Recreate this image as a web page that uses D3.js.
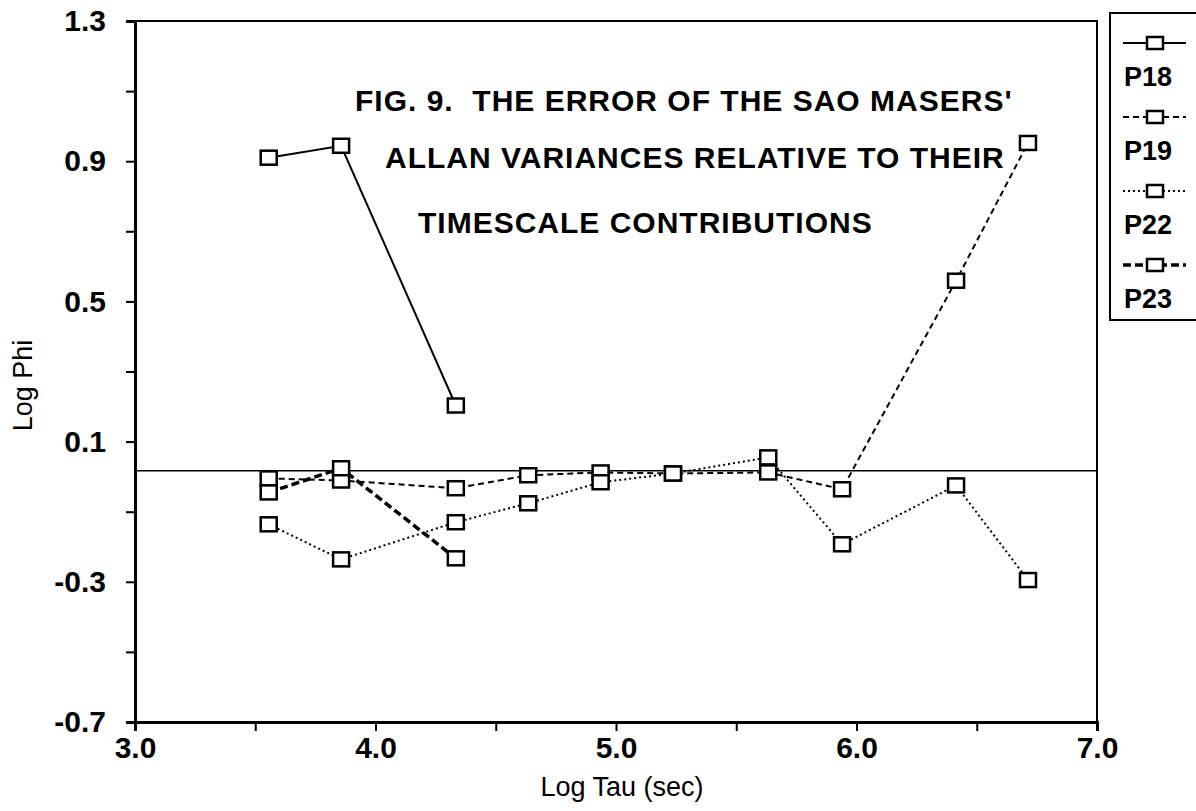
<!DOCTYPE html>
<html>
<head>
<meta charset="utf-8">
<script src="https://cdn.jsdelivr.net/npm/d3@7"></script>
<style>
  body { margin: 0; background: #fff; }
  text { font-family: "Liberation Sans", Arial, sans-serif; fill: #000; }
</style>
</head>
<body>
<script>
// log tau positions (sec)
const tauShort = [3.556, 3.857, 4.334];
const tauLong = [3.556, 3.857, 4.334, 4.635, 4.936, 5.237, 5.633, 5.94, 6.414, 6.713];

const phiP18 = [0.91, 0.944, 0.203];
const phiP19 = [-0.005, -0.011, -0.033, 0.004, 0.012, 0.009, 0.012, -0.036, 0.559, 0.952];
const phiP22 = [-0.136, -0.236, -0.13, -0.076, -0.016, 0.009, 0.055, -0.193, -0.025, -0.295];
const phiP23 = [-0.045, 0.024, -0.233];

const refLine = 0.017;

const xTicks = [3, 3.5, 4, 4.5, 5, 5.5, 6, 6.5, 7];
const xLabels = ["3.0", "", "4.0", "", "5.0", "", "6.0", "", "7.0"];
const yTicks = [-0.7, -0.5, -0.3, -0.1, 0.1, 0.3, 0.5, 0.7, 0.9, 1.1, 1.3];
const yLabels = ["-0.7", "", "-0.3", "", "0.1", "", "0.5", "", "0.9", "", "1.3"];

const titleLines = ["FIG. 9.  THE ERROR OF THE SAO MASERS'",
                    "ALLAN VARIANCES RELATIVE TO THEIR",
                    "TIMESCALE CONTRIBUTIONS"];

const series = [
  { name: "P18", tau: tauShort, phi: phiP18, dash: null, width: 2 },
  { name: "P19", tau: tauLong, phi: phiP19, dash: "6,4", width: 2 },
  { name: "P22", tau: tauLong, phi: phiP22, dash: "2,3", width: 2 },
  { name: "P23", tau: tauShort, phi: phiP23, dash: "8,4", width: 3.5 }
];

const W = 1196, H = 811;
const plotL = 135, plotR = 1097, plotT = 21, plotB = 722;

const svg = d3.select("body").append("svg")
  .attr("width", W).attr("height", H);

const x = d3.scaleLinear().domain([3, 7]).range([plotL, plotR]);
const y = d3.scaleLinear().domain([-0.7, 1.3]).range([plotB, plotT]);

// frame
svg.append("rect")
  .attr("x", plotL).attr("y", plotT)
  .attr("width", plotR - plotL).attr("height", plotB - plotT)
  .attr("fill", "none").attr("stroke", "#000").attr("stroke-width", 2);

// axes
const xAxis = d3.axisBottom(x).tickValues(xTicks)
  .tickFormat((d, i) => xLabels[i]).tickSize(9).tickPadding(6);
const gx = svg.append("g").attr("transform", `translate(0,${plotB})`).call(xAxis);
gx.select(".domain").attr("stroke-width", 3);
gx.selectAll(".tick line").attr("stroke-width", 2);
gx.selectAll("text").attr("font-size", 30).attr("font-weight", "bold");

const yAxis = d3.axisLeft(y).tickValues(yTicks)
  .tickFormat((d, i) => yLabels[i]).tickSize(9).tickPadding(20);
const gy = svg.append("g").attr("transform", `translate(${plotL},0)`).call(yAxis);
gy.select(".domain").attr("stroke-width", 3);
gy.selectAll(".tick line").attr("stroke-width", 2);
gy.selectAll("text").attr("font-size", 30).attr("font-weight", "bold");

// reference line
svg.append("line")
  .attr("x1", x(3)).attr("x2", x(7))
  .attr("y1", y(refLine)).attr("y2", y(refLine))
  .attr("stroke", "#000").attr("stroke-width", 1.6);

// axis titles
svg.append("text")
  .attr("x", 622).attr("y", 796)
  .attr("text-anchor", "middle").attr("font-size", 27)
  .text("Log Tau (sec)");
svg.append("text")
  .attr("transform", `translate(32,${y(0.26)}) rotate(-90)`)
  .attr("text-anchor", "middle").attr("font-size", 27)
  .text("Log Phi");

// title inside plot
const titleX = [355, 385, 418];
svg.append("g").selectAll("text").data(titleLines).join("text")
  .attr("x", (d, i) => titleX[i])
  .attr("y", (d, i) => [111, 168, 233][i])
  .attr("font-size", 30).attr("font-weight", "bold")
  .attr("letter-spacing", 1)
  .style("white-space", "pre")
  .text(d => d);

// series lines
const line = d3.line().x(d => x(d[0])).y(d => y(d[1]));
series.forEach(s => {
  const pts = s.tau.map((t, i) => [t, s.phi[i]]);
  svg.append("path")
    .datum(pts)
    .attr("d", line)
    .attr("fill", "none")
    .attr("stroke", "#000")
    .attr("stroke-width", s.width)
    .attr("stroke-dasharray", s.dash);
  svg.append("g").selectAll("rect").data(pts).join("rect")
    .attr("x", d => x(d[0]) - 8).attr("y", d => y(d[1]) - 7)
    .attr("width", 16).attr("height", 14)
    .attr("fill", "#fff").attr("stroke", "#000").attr("stroke-width", 2.5);
});

// legend
const lg = svg.append("g");
lg.append("rect")
  .attr("x", 1110).attr("y", 13)
  .attr("width", 100).attr("height", 307)
  .attr("fill", "#fff").attr("stroke", "#000").attr("stroke-width", 2);
series.forEach((s, i) => {
  const ly = 43 + i * 74;
  lg.append("line")
    .attr("x1", 1123).attr("x2", 1186).attr("y1", ly).attr("y2", ly)
    .attr("stroke", "#000").attr("stroke-width", s.width)
    .attr("stroke-dasharray", s.dash);
  lg.append("rect")
    .attr("x", 1147).attr("y", ly - 6).attr("width", 16).attr("height", 12)
    .attr("fill", "#fff").attr("stroke", "#000").attr("stroke-width", 2.5);
  lg.append("text")
    .attr("x", 1124).attr("y", ly + 43)
    .attr("font-size", 27).attr("font-weight", "bold")
    .text(s.name);
});
</script>
</body>
</html>
